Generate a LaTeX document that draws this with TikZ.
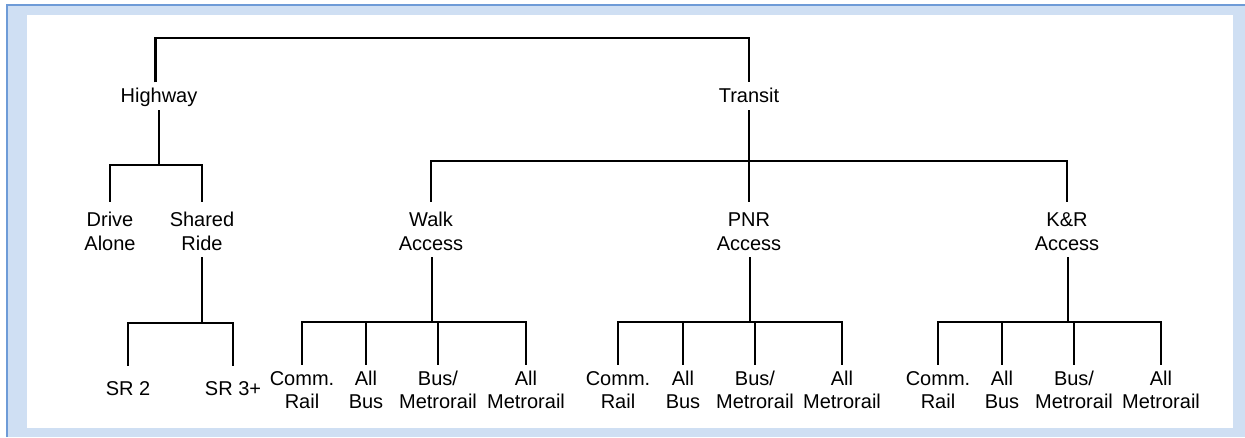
\documentclass[tikz,border=0pt]{standalone}
\usepackage{fontspec}
\setmainfont{Liberation Sans}
\definecolor{frameblue}{RGB}{207,223,243}
\definecolor{frameline}{RGB}{110,155,215}
\begin{document}
\begin{tikzpicture}[x=1pt,y=-1pt,
  conn/.style={line width=2.2pt, black},
  lab/.style={font=\fontsize{20pt}{23.5pt}\selectfont, align=center, inner xsep=0pt},
  toplab/.style={lab, text height=14.5pt, text depth=2pt, inner ysep=5.5pt},
  midlab/.style={lab, text height=41pt, text depth=0pt, inner ysep=7pt},
  leaflab/.style={lab, text height=38pt, text depth=0pt, inner ysep=5.5pt},
  srlab/.style={lab, text height=14.5pt, text depth=2pt, inner ysep=14.5pt}]
\useasboundingbox (0,0) rectangle (1245,437);
% frame
\fill[white] (0,0) rectangle (1245,437);
\fill[frameblue] (7,5) rectangle (1245,437);
\draw[frameline, line width=1.5pt] (7,437) -- (7,5) -- (1245,5);
\fill[white] (27,15) rectangle (1233,428);
% coordinates of bars
\coordinate (rootbar) at (452,38);
\coordinate (hwbar) at (156,165);
\coordinate (trbar) at (600,161);
\coordinate (srbar) at (180,323);
\coordinate (lbar) at (0,322);
% nodes
\node[toplab] (hw) at (159,96.25) {Highway};
\node[toplab] (tr) at (749,96.25) {Transit};
\node[midlab] (da) at (110,229.5) {Drive\\Alone};
\node[midlab] (sr) at (202,229.5) {Shared\\Ride};
\node[midlab] (wa) at (431,229.5) {Walk\\Access};
\node[midlab] (pa) at (749,229.5) {PNR\\Access};
\node[midlab] (ka) at (1067,229.5) {K\&R\\Access};
\node[srlab] (sr2) at (128,388.75) {SR 2};
\node[srlab] (sr3) at (233,388.75) {SR 3+};
% connectors
\draw[conn] ([xshift=-3.5pt]hw.north) |- (rootbar) -| (tr.north);
\draw[conn] (hw.south) -- (hw.south |- hwbar);
\draw[conn] (da.north) -- (da.north |- hwbar) -- (sr.north |- hwbar) -- (sr.north);
\draw[conn] (sr.south) -- (sr.south |- srbar);
\draw[conn] (sr2.north) -- (sr2.north |- srbar) -- (sr3.north |- srbar) -- (sr3.north);
\draw[conn] (tr.south) -- (pa.north);
\draw[conn] (wa.north) -- (wa.north |- trbar) -- (ka.north |- trbar) -- (ka.north);
\foreach \p/\a/\b/\c/\d in {wa/302/366/438/526, pa/618/683/755/842, ka/938/1002/1074/1161} {
  \node[leaflab] (\p1) at (\a,389.5) {Comm.\\Rail};
  \node[leaflab] (\p2) at (\b,389.5) {All\\Bus};
  \node[leaflab] (\p3) at (\c,389.5) {Bus/\\Metrorail};
  \node[leaflab] (\p4) at (\d,389.5) {All\\Metrorail};
  \draw[conn] (\p1.north) -- (\p1.north |- lbar) -- (\p4.north |- lbar) -- (\p4.north);
  \draw[conn] (\p2.north) -- (\p2.north |- lbar);
  \draw[conn] (\p3.north) -- (\p3.north |- lbar);
  \draw[conn] ([xshift=1pt]\p.south) -- ([xshift=1pt]\p.south |- lbar);
}
\end{tikzpicture}
\end{document}
